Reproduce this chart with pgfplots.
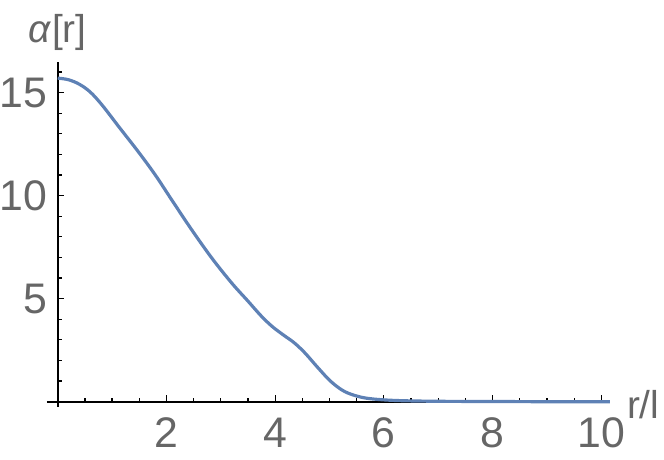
\documentclass[border=0pt]{standalone}
\usepackage{pgfplots}
\pgfplotsset{compat=1.18}
\usepackage{fontspec}
\setmainfont{Liberation Sans}
\definecolor{mmablue}{rgb}{0.368417,0.506779,0.709798}
\definecolor{mmagray}{gray}{0.4}
\begin{document}
\begin{tikzpicture}
\begin{axis}[
  scale only axis,width=566pt,height=347pt,
  axis lines=middle,clip=false,
  xmin=-0.2,xmax=10.16,ymin=-0.25,ymax=16.5,
  xtick={2,4,...,10},ytick={5,10,15},
  minor xtick={0.5,1,...,10},minor ytick={1,2,...,16},
  tick align=inside,
  major tick length=6.5pt,minor tick length=4pt,
  every tick/.style={black,line width=1.2pt},
  axis line style={black,line width=1.8pt,-},
  /pgf/number format/assume math mode=true,
  tick label style={font=\fontsize{43}{48}\selectfont,text=mmagray,inner sep=0pt},
  xticklabel style={anchor=north,yshift=-16pt},
  yticklabel style={anchor=east,xshift=-10pt},
  label style={font=\fontsize{39}{45}\selectfont,text=mmagray,inner sep=0pt},
  xlabel={r/l},
  xlabel style={at={(axis description cs:1.0299,-0.0328)},anchor=base west},
  ylabel={\textit{α}[r]},
  ylabel style={at={(axis description cs:0.0193,1.0567)},anchor=base},
]
\path (axis cs:-1.007,-2.78) rectangle (axis cs:11.154,19.49);
\addplot[color=mmablue,line width=3.2pt,smooth,tension=0.55] coordinates {
 (0,15.7) (0.2,15.62) (0.4,15.40) (0.6,15.02) (0.82,14.38) (1.13,13.32) (1.49,12.1)
 (1.80,10.98) (2.10,9.78) (2.47,8.32) (2.84,6.95) (3.20,5.76) (3.50,4.88)
 (3.75,4.14) (3.95,3.64) (4.15,3.24) (4.35,2.86) (4.55,2.36) (4.79,1.64) (5.03,0.97)
 (5.28,0.49) (5.58,0.22) (5.89,0.11) (6.32,0.05) (7,0.02) (8,0.01) (9,0) (10.16,0)
};
\end{axis}
\end{tikzpicture}
\end{document}
